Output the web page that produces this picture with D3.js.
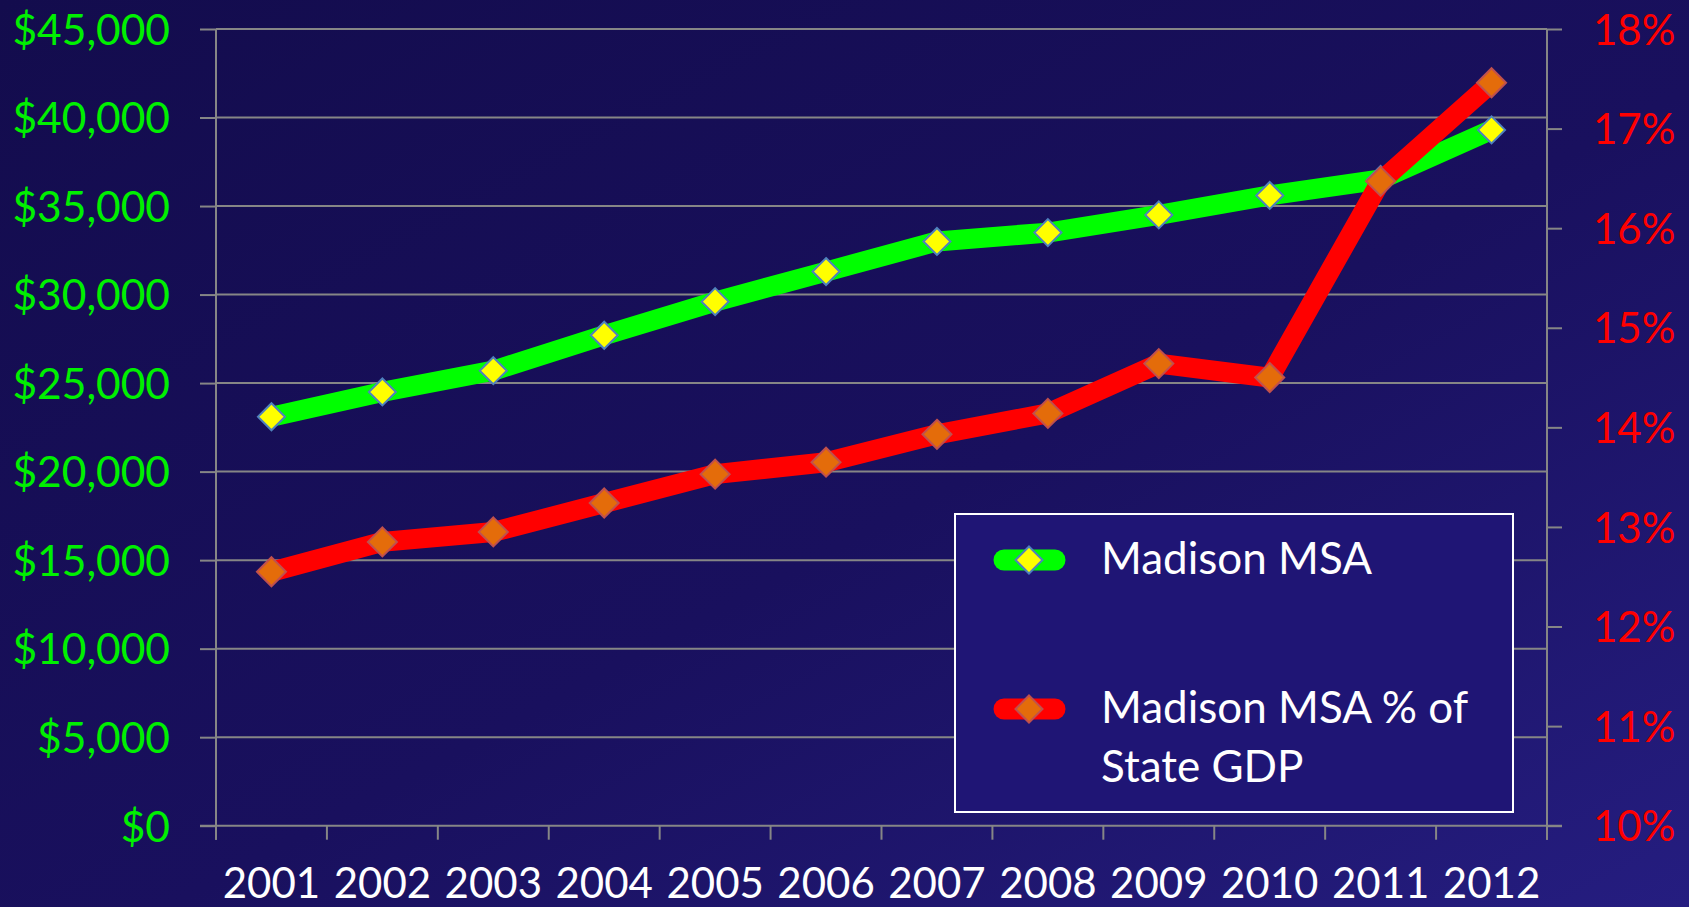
<!DOCTYPE html>
<html>
<head>
<meta charset="utf-8">
<script src="https://cdn.jsdelivr.net/npm/d3@7"></script>
<style>
  html, body { margin: 0; padding: 0; background: #150e52; }
  svg { display: block; }
  text { font-family: Lato, "Open Sans", sans-serif; }
</style>
</head>
<body>
<svg id="chart" width="1689" height="907"></svg>
<script>
// ---- data ----
const years = ["2001","2002","2003","2004","2005","2006","2007","2008","2009","2010","2011","2012"];
const madisonGDP = [23100, 24500, 25700, 27700, 29600, 31300, 33000, 33500, 34500, 35600, 36500, 39300];
const madisonShare = [0.1255, 0.1285, 0.1295, 0.1324, 0.1353, 0.1365, 0.1393, 0.1414, 0.1464, 0.1450, 0.1647, 0.1746];
const leftTicks = [0, 5000, 10000, 15000, 20000, 25000, 30000, 35000, 40000, 45000];
const rightTicks = [0.10, 0.11, 0.12, 0.13, 0.14, 0.15, 0.16, 0.17, 0.18];
const seriesNames = ["Madison MSA", "Madison MSA % of State GDP"];

// ---- layout ----
const W = 1689, H = 907;
const plotL = 216, plotR = 1547, plotT = 29, plotB = 825.7;
const svg = d3.select("#chart");

const defs = svg.append("defs");
const grad = defs.append("linearGradient").attr("id", "bg")
  .attr("x1", "0").attr("y1", "0").attr("x2", "1").attr("y2", "1");
grad.append("stop").attr("offset", "0").attr("stop-color", "#130c4d");
grad.append("stop").attr("offset", "0.55").attr("stop-color", "#19105e");
grad.append("stop").attr("offset", "1").attr("stop-color", "#251d80");
svg.append("rect").attr("width", W).attr("height", H).attr("fill", "url(#bg)");

const x = d3.scaleBand().domain(years).range([plotL, plotR]);
const yL = d3.scaleLinear().domain([0, 45000]).range([plotB, plotT]);
const yR = d3.scaleLinear().domain([0.10, 0.18]).range([plotB, plotT]);

const gridColor = "#868686";

// gridlines
svg.append("g").selectAll("line").data(leftTicks.filter(d => d > 0)).join("line")
  .attr("x1", plotL).attr("x2", plotR)
  .attr("y1", d => yL(d)).attr("y2", d => yL(d))
  .attr("stroke", gridColor).attr("stroke-width", 2);

// left axis
const fmtDollar = d => "$" + d3.format(",")(d);
const gLeft = svg.append("g").attr("transform", `translate(${plotL},0)`)
  .call(d3.axisLeft(yL).tickValues(leftTicks).tickSize(16).tickPadding(30).tickFormat(fmtDollar));
gLeft.select(".domain").remove();
gLeft.selectAll(".tick line").attr("stroke", gridColor).attr("stroke-width", 2);
gLeft.selectAll(".tick text").attr("fill", "#00f000").style("font-size", "42.5px").attr("dy", "0.36em");
svg.append("line").attr("x1", plotL).attr("x2", plotL).attr("y1", plotT).attr("y2", plotB + 14)
  .attr("stroke", gridColor).attr("stroke-width", 2);

// right axis
const gRight = svg.append("g").attr("transform", `translate(${plotR},0)`)
  .call(d3.axisRight(yR).tickValues(rightTicks).tickSize(15).tickPadding(31).tickFormat(d3.format(".0%")));
gRight.select(".domain").remove();
gRight.selectAll(".tick line").attr("stroke", gridColor).attr("stroke-width", 2);
gRight.selectAll(".tick text").attr("fill", "#ff0000").style("font-size", "42px").attr("dy", "0.36em");
svg.append("line").attr("x1", plotR).attr("x2", plotR).attr("y1", plotT).attr("y2", plotB + 14)
  .attr("stroke", gridColor).attr("stroke-width", 2);

// bottom axis
const gBottom = svg.append("g").attr("transform", `translate(0,${plotB})`)
  .call(d3.axisBottom(x).tickSize(0).tickPadding(72));
gBottom.select(".domain").remove();
gBottom.selectAll(".tick text").attr("fill", "#ffffff").style("font-size", "42px").attr("dy", "0");
svg.append("line").attr("x1", plotL - 16).attr("x2", plotR + 15).attr("y1", plotB).attr("y2", plotB)
  .attr("stroke", gridColor).attr("stroke-width", 2);
const bounds = years.map(d => x(d)).concat([plotR]);
svg.append("g").selectAll("line").data(bounds).join("line")
  .attr("x1", d => d).attr("x2", d => d).attr("y1", plotB).attr("y2", plotB + 14)
  .attr("stroke", gridColor).attr("stroke-width", 2);

const cx = d => x(d) + x.bandwidth() / 2;
const diamond = (s) => `M0,${-s}L${s},0L0,${s}L${-s},0Z`;

// green series
const greenLine = d3.line().x((d, i) => cx(years[i])).y(d => yL(d));
svg.append("path").datum(madisonGDP).attr("d", greenLine)
  .attr("fill", "none").attr("stroke", "#00ff00").attr("stroke-width", 20)
  .attr("stroke-linejoin", "round").attr("stroke-linecap", "butt");
svg.append("g").selectAll("path").data(madisonGDP).join("path")
  .attr("transform", (d, i) => `translate(${cx(years[i])},${yL(d)})`)
  .attr("d", diamond(13.5)).attr("fill", "#ffff00").attr("stroke", "#4f81bd").attr("stroke-width", 2);

// red series
const redLine = d3.line().x((d, i) => cx(years[i])).y(d => yR(d));
svg.append("path").datum(madisonShare).attr("d", redLine)
  .attr("fill", "none").attr("stroke", "#ff0000").attr("stroke-width", 20)
  .attr("stroke-linejoin", "round").attr("stroke-linecap", "butt");
svg.append("g").selectAll("path").data(madisonShare).join("path")
  .attr("transform", (d, i) => `translate(${cx(years[i])},${yR(d)})`)
  .attr("d", diamond(14.5)).attr("fill", "#e46c0a").attr("stroke", "#c0504d").attr("stroke-width", 2);

// legend
const lg = svg.append("g");
lg.append("rect").attr("x", 955).attr("y", 514).attr("width", 558).attr("height", 298)
  .attr("fill", "#1f1575").attr("stroke", "#ffffff").attr("stroke-width", 2);
const legendItems = [
  { color: "#00ff00", fill: "#ffff00", stroke: "#4f81bd", y: 560, lines: [seriesNames[0]] },
  { color: "#ff0000", fill: "#e46c0a", stroke: "#c0504d", y: 709, lines: ["Madison MSA % of", "State GDP"] }
];
legendItems.forEach(it => {
  lg.append("line").attr("x1", 1004).attr("x2", 1055).attr("y1", it.y).attr("y2", it.y)
    .attr("stroke", it.color).attr("stroke-width", 21).attr("stroke-linecap", "round");
  lg.append("path").attr("transform", `translate(1029,${it.y})`).attr("d", diamond(13.5))
    .attr("fill", it.fill).attr("stroke", it.stroke).attr("stroke-width", 2);
  const t = lg.append("text").attr("x", 1101).attr("y", it.y + 14).attr("fill", "#ffffff").style("font-size", "44px");
  it.lines.forEach((ln, k) => {
    t.append("tspan").attr("x", 1101).attr("dy", k === 0 ? 0 : 59).text(ln);
  });
});
</script>
</body>
</html>
